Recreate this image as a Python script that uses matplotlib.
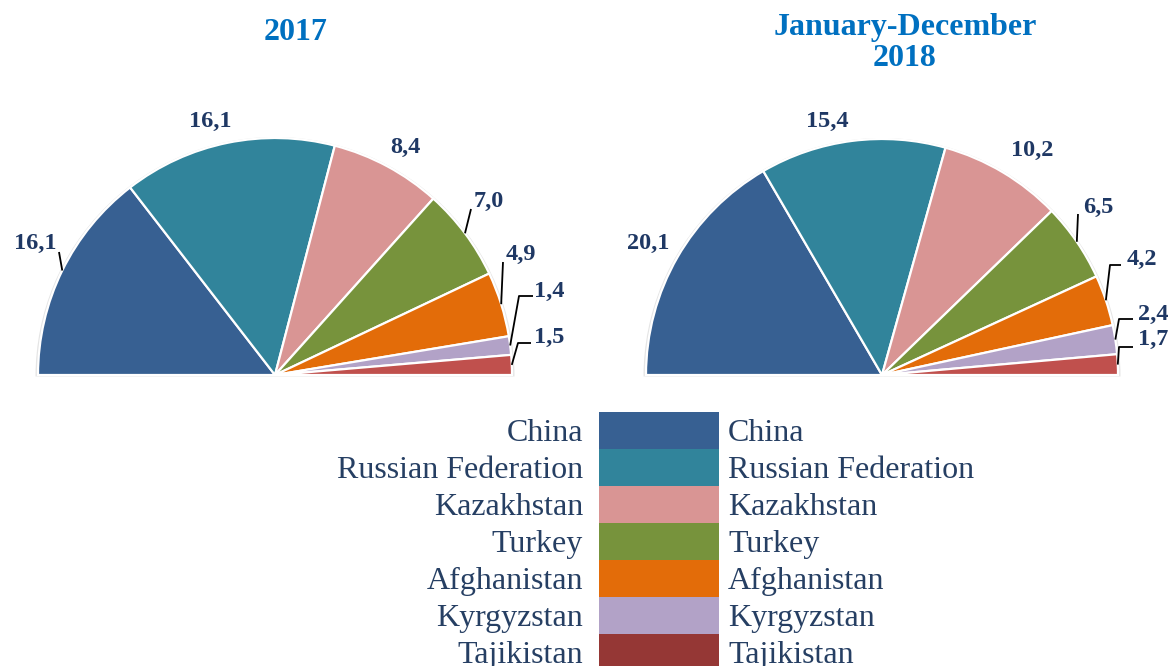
"""
Half-pie comparison: 2017 vs January-December 2018, shares by country
"""

import numpy as np
import matplotlib
matplotlib.use("Agg")
import matplotlib.pyplot as plt
import matplotlib.transforms as mtransforms
from matplotlib.patches import Wedge

plt.rcParams.update({
    "font.family": ["Liberation Serif", "DejaVu Serif"],
})

# ── data ─────────────────────────────────────────────────────────
countries = ["China", "Russian Federation", "Kazakhstan", "Turkey",
             "Afghanistan", "Kyrgyzstan", "Tajikistan"]
vals_2017 = [16.1, 16.1, 8.4, 7.0, 4.9, 1.4, 1.5]
vals_2018 = [20.1, 15.4, 10.2, 6.5, 4.2, 2.4, 1.7]
titles = ["2017", "January-December\n2018"]

slice_colors  = ["#376092", "#31849B", "#D99594", "#77933C", "#E36C09", "#B2A2C7", "#C0504D"]
legend_colors = ["#376092", "#31849B", "#D99594", "#77933C", "#E36C09", "#B2A2C7", "#953735"]

TITLE_C = "#0070C0"
LABEL_C = "#1F3864"
LEG_C   = "#263F63"

W, H = 1169, 666

# ── layout (pixel coords, y from top) ────────────────────────────
pies = [
    dict(vals=vals_2017, center=(275, 375), r=237, title_xy=(296, 33),
         labels=[(35, 243), (210, 121), (405, 147), (489, 201), (521, 254), (549, 291), (549, 337)],
         leaders=[[(59, 252)], None, None, [(471, 209)], [(503, 262)],
                  [(533, 296), (519, 296)], [(531, 343), (518, 343)]]),
    dict(vals=vals_2018, center=(882, 375), r=236, title_xy=(905, 43),
         labels=[(648, 243), (827, 121), (1032, 150), (1098, 207), (1142, 259), (1153, 314), (1153, 339)],
         leaders=[None, None, None, [(1078, 214)], [(1121, 265), (1110, 265)],
                  [(1133, 319), (1119, 319)], [(1133, 347), (1119, 347)]]),
]

fig = plt.figure(figsize=(W / 100, H / 100), dpi=100)
ax = fig.add_axes([0, 0, 1, 1])


def Y(y):
    return H - y


for k, p in enumerate(pies):
    cx, cy = p["center"]
    r = p["r"]
    vals = p["vals"]
    # soft rim/shadow behind the half disc
    ax.add_patch(Wedge((cx, Y(cy) - 1.5), r + 2.5, 0, 180, facecolor="#D0D0D0",
                       edgecolor="none", alpha=0.55, zorder=0))
    wedges, _ = ax.pie(vals + [sum(vals)], radius=r, center=(cx, Y(cy)),
                       startangle=180, counterclock=False,
                       colors=slice_colors + ["none"], frame=True,
                       wedgeprops=dict(edgecolor="white", linewidth=1.6))
    wedges[-1].set_visible(False)

    for i, (val, w) in enumerate(zip(vals, wedges[:-1])):
        tx, ty = p["labels"][i]
        ax.text(tx, Y(ty), f"{val:.1f}".replace(".", ","), ha="center", va="center",
                fontsize=17.5, fontweight="bold", color=LABEL_C)
        lead = p["leaders"][i]
        if lead:
            mid = np.deg2rad((w.theta1 + w.theta2) / 2)
            arc_pt = (cx + r * np.cos(mid), Y(cy) + r * np.sin(mid))
            xs = [q[0] for q in lead] + [arc_pt[0]]
            ys = [Y(q[1]) for q in lead] + [arc_pt[1]]
            ax.plot(xs, ys, color="black", linewidth=1.3, solid_capstyle="butt", zorder=5)

    ttx, tty = p["title_xy"]
    ax.text(ttx, Y(tty), titles[k], ha="center", va="center",
            fontsize=23, fontweight="bold", color=TITLE_C, linespacing=1.1)

ax.set_xlim(0, W)
ax.set_ylim(0, H)
ax.set_aspect("auto")
ax.axis("off")

# ── legend as a colour column with names either side ─────────────
row_h = 37
top = 412
lax = fig.add_axes([599 / W, 1 - (top + row_h * 7) / H, 120 / W, row_h * 7 / H])
ypos = list(range(len(countries)))
lax.barh(ypos, [1] * len(countries), height=1.0, color=legend_colors, edgecolor="none")
lax.set_xlim(0, 1)
lax.set_ylim(len(countries) - 0.5, -0.5)
lax.axis("off")
tr = mtransforms.blended_transform_factory(lax.transAxes, lax.transData)
for yy, name in zip(ypos, countries):
    lax.text(-16 / 120, yy + 0.08, name, transform=tr, ha="right", va="center",
             fontsize=23, color=LEG_C)
    lax.text(1 + 9 / 120, yy + 0.08, name, transform=tr, ha="left", va="center",
             fontsize=23, color=LEG_C)

fig.savefig("out.png", dpi=100)
plt.close(fig)
